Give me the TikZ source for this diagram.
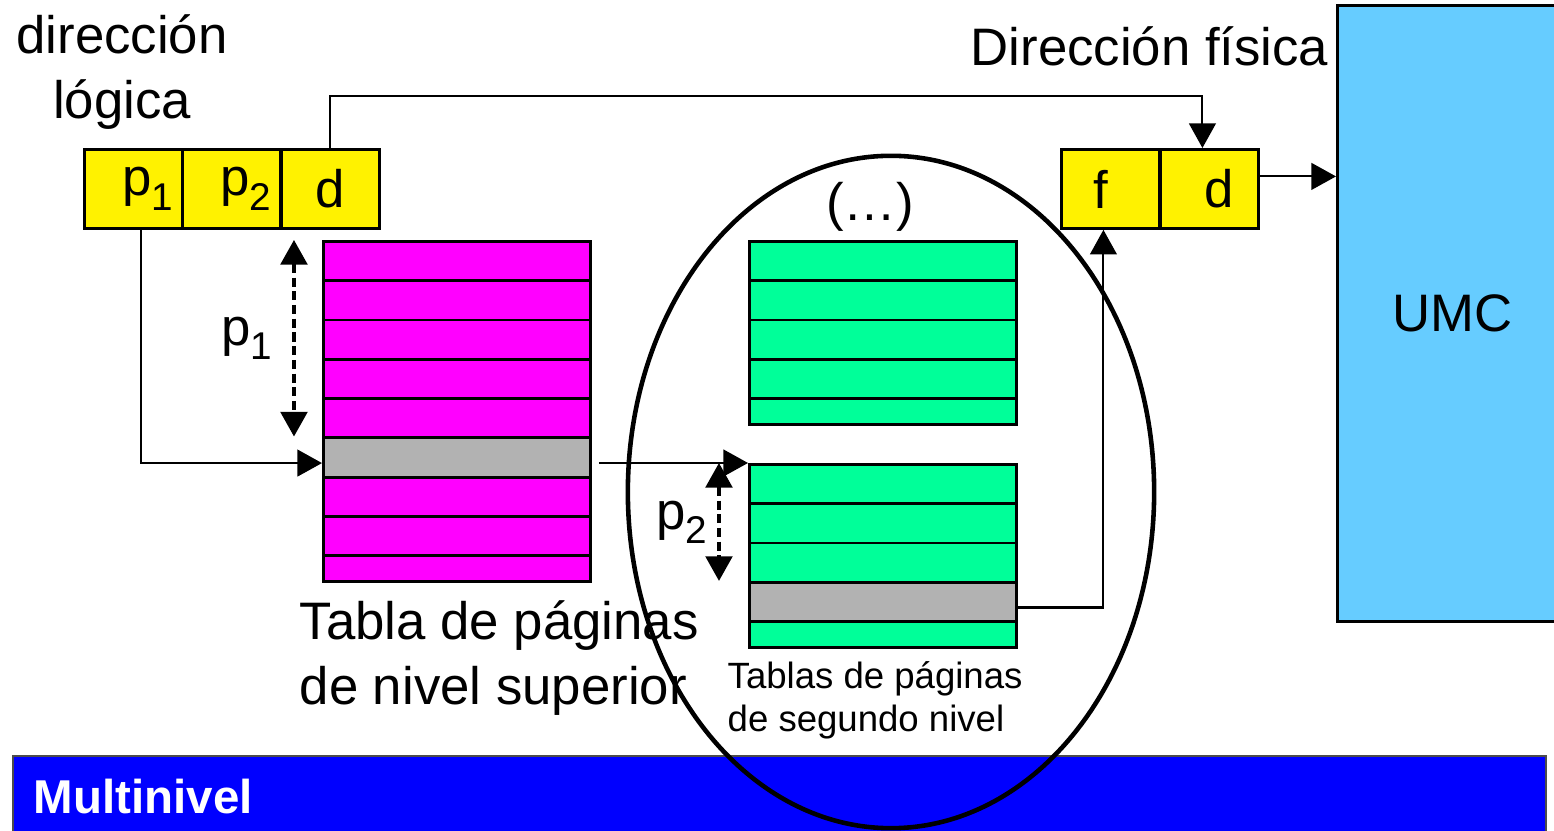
\documentclass[tikz,border=0pt]{standalone}
\usepackage{fontspec}
\setmainfont{Liberation Sans}
\usetikzlibrary{arrows.meta}
\definecolor{tabA}{HTML}{FF00FF}
\definecolor{tabB}{HTML}{00FF99}
\definecolor{selrow}{HTML}{B2B2B2}
\definecolor{umcblue}{HTML}{66CCFF}
\definecolor{barblue}{HTML}{0000FF}
\newcommand{\pidx}[1]{p\raisebox{-0.27em}{\fontsize{11pt}{11pt}\selectfont #1}}

\begin{document}
\begin{tikzpicture}[x=0.01cm,y=-0.01cm,
    field/.style={draw,line width=0.8pt,fill=yellow,minimum width=0.98cm,
        minimum height=0.79cm,inner sep=0pt,anchor=north west,
        font=\fontsize{15pt}{18pt}\selectfont},
    row/.style={draw,line width=0.8pt,minimum width=2.67cm,
        minimum height=0.393cm,inner sep=0pt,anchor=north west},
    big/.style={inner sep=0pt,font=\fontsize{15pt}{18.5pt}\selectfont},
    arr/.style={line width=0.6pt,-{Triangle[length=7pt,width=7.6pt]}},
    dimarr/.style={line width=0.9pt,dash pattern=on 2.6pt off 1.3pt,
        {Triangle[length=7pt,width=7.6pt]}-{Triangle[length=7pt,width=7.6pt]}}]
    \clip (0,0) rectangle (1554,831);

    % Logical address
    \node[big,align=center] (logic) at (122,72) {dirección\\lógica};
    \node[field,text width=0.8cm,align=right] (lp1) at (83,148) {\pidx{1}};
    \node[field,text width=0.8cm,align=right] (lp2) at (181,148) {\pidx{2}};
    \node[field] (ld) at (280,148) {d};

    % Physical address
    \node[big,anchor=east] (phys) at (1329,46) {Dirección física};
    \node[field,text width=0.33cm,align=left] (pf) at (1060,148) {f};
    \node[field,text width=0.48cm,align=right] (pd) at (1159,148) {d};

    % UMC
    \node[draw,line width=0.8pt,fill=umcblue,minimum width=2.30cm,
        minimum height=6.16cm,anchor=north west,big] (umc) at (1336,4) {UMC};

    % Top level table
    \foreach \i/\col in {0/tabA,1/tabA,2/tabA,3/tabA,4/tabA,5/selrow,6/tabA,7/tabA}
        \node[row,fill=\col] (top\i) at (322,240+39.3*\i) {};
    \node[row,fill=tabA,minimum height=0.26cm] (top8) at (322,554.4) {};
    \node[big,align=left,anchor=north west] (topText) at (299,600)
        {Tabla de páginas\\de nivel superior};

    % Second level tables
    \foreach \i in {0,...,3}
        \node[row,fill=tabB] (secA\i) at (748,240+39.3*\i) {};
    \node[row,fill=tabB,minimum height=0.26cm] (secA4) at (748,397.2) {};
    \foreach \i/\col in {0/tabB,1/tabB,2/tabB,3/selrow}
        \node[row,fill=\col] (secB\i) at (748,463+39.3*\i) {};
    \node[row,fill=tabB,minimum height=0.26cm] (secB4) at (748,620.2) {};
    \node[big] (dots) at (870,207) {(…)};
    \node[inner sep=0pt,align=left,anchor=north west,
        font=\fontsize{10.4pt}{12.2pt}\selectfont] (secText) at (727,661)
        {Tablas de páginas\\de segundo nivel};

    % Offsets
    \draw[dimarr] ([xshift=-0.28cm]top0.north west) -- ([xshift=-0.28cm]top5.north west)
        node[midway,left=0.2cm,big] {\pidx{1}};
    \draw[dimarr] ([xshift=-0.29cm]secB0.north west) -- ([xshift=-0.29cm]secB3.north west)
        node[midway,left=0.1cm,big] {\pidx{2}};

    % Connections
    \draw[arr] ([xshift=0.08cm]lp1.south) |- ([yshift=-0.055cm]top5.west);
    \draw[arr] ([xshift=0.07cm]top5.east |- secB0.north west) -- (secB0.north west);
    \draw[arr] ([yshift=-0.055cm]secB3.east) -| ([xshift=-0.07cm]pf.south);
    \draw[arr] (ld.north) -- ++(0,-52) -| ([xshift=-0.07cm]pd.north);
    \draw[arr] ([yshift=0.125cm]pd.east) -- ([yshift=0.125cm]pd.east -| umc.west);

    % Title bar
    \draw[fill=barblue,draw=black!70,line width=0.8pt] (13,756) rectangle (1546,850);
    \node[inner sep=0pt,anchor=west,text=white,
        font=\bfseries\fontsize{13.5pt}{16pt}\selectfont] (title) at (33,797) {Multinivel};

    % Second level group
    \draw[line width=1.3pt] (891,492) ellipse [x radius=2.63cm, y radius=3.36cm];
\end{tikzpicture}
\end{document}
